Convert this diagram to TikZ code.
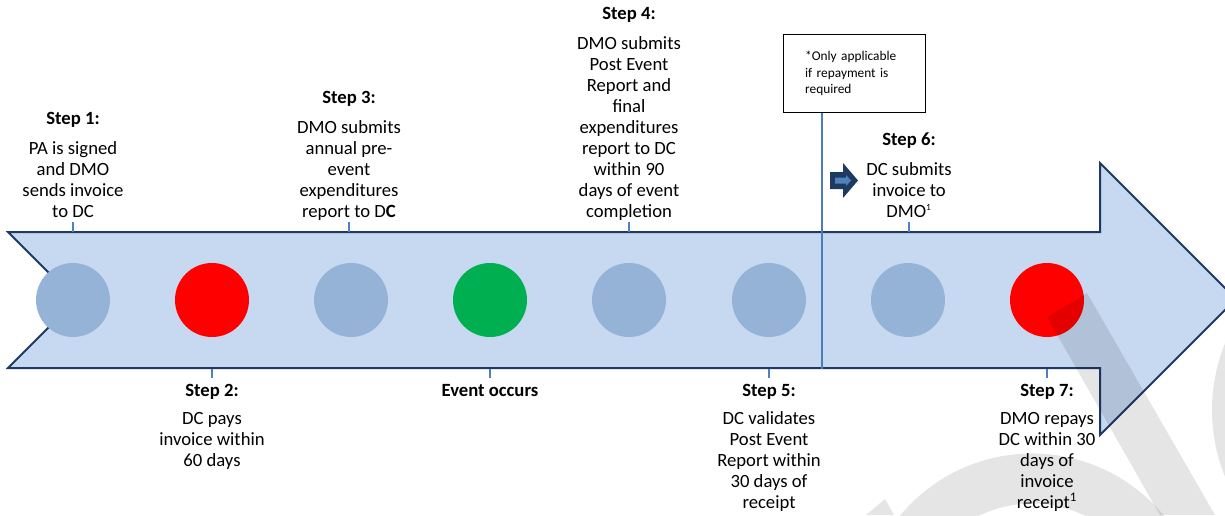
\documentclass[tikz,border=0pt]{standalone}
\usepackage{fontspec}
\setmainfont{Carlito}
\definecolor{shaftfill}{HTML}{C6D9F1}
\definecolor{shaftline}{HTML}{1F3864}
\definecolor{dotblue}{HTML}{95B3D7}
\definecolor{dotred}{HTML}{FF0000}
\definecolor{dotgreen}{HTML}{00B050}
\definecolor{tickblue}{HTML}{4F81BD}
\definecolor{lineblue}{HTML}{4A7EBB}
\definecolor{iconnavy}{HTML}{1F3A5F}

\begin{document}
\begin{tikzpicture}[x=0.75pt,y=-0.75pt]
	\tikzset{every node/.style={font=\fontsize{14}{15.75}\selectfont,align=center}}
	\tikzset{dot/.style={circle,minimum size=55.5pt,inner sep=0pt}}
	\tikzset{upper/.style={anchor=south,inner ysep=3pt,text depth=0pt}}
	\tikzset{lower/.style={anchor=north,inner ysep=4.3pt}}
	\tikzset{tick/.style={tickblue,line width=1.1pt}}
	\tikzset{mark wm/.style={black,fill opacity=0.1}}
	\useasboundingbox (0,0) rectangle (1225,515);
	\clip (0,0) rectangle (1225,515);
	\coordinate (top) at (0,232);
	\coordinate (bot) at (0,369);
	\coordinate (div) at (822,0);
	% the big arrow
	\draw[shaftline,fill=shaftfill,line width=1.5pt,line join=miter]
		(8,232) -- (1100,232) -- (1100,163) -- (1236,299) -- (1100,435) -- (1100,368) -- (8,368) -- (76,300) -- cycle;
	\node[dot,fill=dotblue]  (c1) at (73,300) {};
	\node[dot,fill=dotred]   (c2) at (212,300) {};
	\node[dot,fill=dotblue]  (c3) at (351,300) {};
	\node[dot,fill=dotgreen] (c4) at (490,300) {};
	\node[dot,fill=dotblue]  (c5) at (629,300) {};
	\node[dot,fill=dotblue]  (c6) at (769,300) {};
	\node[dot,fill=dotblue]  (c7) at (908,300) {};
	\node[dot,fill=dotred]   (c8) at (1047,300) {};
	% watermark
	\fill[mark wm] (1047,317) -- (1087,293) -- (1215,515) -- (1160,515) -- cycle;
	\fill[mark wm] (866,515) -- (885,499) -- (894,515) -- cycle;
	\draw[mark wm,draw opacity=0.1,line width=37.5pt] (1032,624.5) ++(205:146) arc[start angle=205,end angle=335,radius=146];
	\draw[mark wm,draw opacity=0.1,line width=37.5pt] (1390,410) ++(150:153) arc[start angle=150,end angle=210,radius=153];
	% note and divider
	\node[draw=black,line width=0.9pt,minimum width=107pt,minimum height=59pt,text width=74pt,inner xsep=16.5pt,align=left,
		font=\fontsize{10}{12.4}\selectfont] (note) at (854.5,73.5) {*Only applicable if repayment is required};
	\draw[lineblue,line width=1.5pt] (note.south -| div) -- (div |- bot);
	\fill[iconnavy] (830,172) -- (843,172) -- (843,163) -- (858,180.5) -- (843,198) -- (843,189) -- (830,189) -- cycle;
	\fill[tickblue] (835,177.5) -- (846,177.5) -- (846,175) -- (851,180.5) -- (846,186) -- (846,183.5) -- (835,183.5) -- cycle;
	% steps above
	\node[upper] (s1) at (73,222) {\textbf{Step 1:}\\[6.75pt]PA is signed\\and DMO\\sends invoice\\to DC};
	\node[upper] (s3) at (349,222) {\textbf{Step 3:}\\[6.75pt]DMO submits\\annual pre-\\event\\expenditures\\report to D\textbf{C}};
	\node[upper] (s4) at (629,222) {\textbf{Step 4:}\\[6.75pt]DMO submits\\Post Event\\Report and\\final\\expenditures\\report to DC\\within 90\\days of event\\completion};
	\node[upper] (s6) at (909,222) {\textbf{Step 6:}\\[6.75pt]DC submits\\invoice to\\DMO\textsuperscript{\fontsize{7}{7}\selectfont 1}};
	% steps below
	\node[lower] (s2) at (212,378) {\textbf{Step 2:}\\[5.5pt]DC pays\\invoice within\\60 days};
	\node[lower] (ev) at (490,378) {\textbf{Event occurs}};
	\node[lower] (s5) at (769,378) {\textbf{Step 5:}\\[5.5pt]DC validates\\Post Event\\Report within\\30 days of\\receipt};
	\node[lower] (s7) at (1047,378) {\textbf{Step 7:}\\[5.5pt]DMO repays\\DC within 30\\days of\\invoice\\receipt\textsuperscript{1}};
	\foreach \s in {s1,s3,s4,s6}
		\draw[tick] (\s.south) -- (\s.south |- top);
	\foreach \s in {s2,ev,s5,s7}
		\draw[tick] (\s.north |- bot) -- (\s.north);
\end{tikzpicture}
\end{document}
